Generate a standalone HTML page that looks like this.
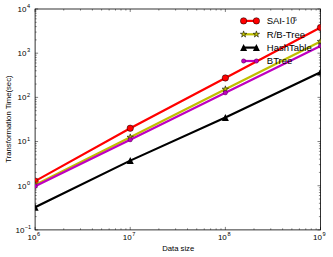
<!DOCTYPE html><html><head><meta charset="utf-8"><style>html,body{margin:0;padding:0;background:#fff;overflow:hidden}svg{display:block}</style></head><body><svg width="333" height="257" viewBox="0 0 333 257"><rect x="35.1" y="9.0" width="285.40" height="220.90" fill="#fff" stroke="#000" stroke-width="0.8"/>
<path d="M35.10 229.9v-3M35.10 9.0v3M130.23 229.9v-3M130.23 9.0v3M225.37 229.9v-3M225.37 9.0v3M320.50 229.9v-3M320.50 9.0v3M35.1 229.90h3M320.5 229.90h-3M35.1 185.72h3M320.5 185.72h-3M35.1 141.54h3M320.5 141.54h-3M35.1 97.36h3M320.5 97.36h-3M35.1 53.18h3M320.5 53.18h-3M35.1 9.00h3M320.5 9.00h-3" stroke="#000" stroke-width="0.5" fill="none"/>
<path d="M63.74 229.9v-1.6M63.74 9.0v1.6M80.49 229.9v-1.6M80.49 9.0v1.6M92.38 229.9v-1.6M92.38 9.0v1.6M101.60 229.9v-1.6M101.60 9.0v1.6M109.13 229.9v-1.6M109.13 9.0v1.6M115.50 229.9v-1.6M115.50 9.0v1.6M121.01 229.9v-1.6M121.01 9.0v1.6M125.88 229.9v-1.6M125.88 9.0v1.6M158.87 229.9v-1.6M158.87 9.0v1.6M175.62 229.9v-1.6M175.62 9.0v1.6M187.51 229.9v-1.6M187.51 9.0v1.6M196.73 229.9v-1.6M196.73 9.0v1.6M204.26 229.9v-1.6M204.26 9.0v1.6M210.63 229.9v-1.6M210.63 9.0v1.6M216.15 229.9v-1.6M216.15 9.0v1.6M221.01 229.9v-1.6M221.01 9.0v1.6M254.00 229.9v-1.6M254.00 9.0v1.6M270.76 229.9v-1.6M270.76 9.0v1.6M282.64 229.9v-1.6M282.64 9.0v1.6M291.86 229.9v-1.6M291.86 9.0v1.6M299.39 229.9v-1.6M299.39 9.0v1.6M305.76 229.9v-1.6M305.76 9.0v1.6M311.28 229.9v-1.6M311.28 9.0v1.6M316.15 229.9v-1.6M316.15 9.0v1.6M35.1 216.60h1.6M320.5 216.60h-1.6M35.1 208.82h1.6M320.5 208.82h-1.6M35.1 203.30h1.6M320.5 203.30h-1.6M35.1 199.02h1.6M320.5 199.02h-1.6M35.1 195.52h1.6M320.5 195.52h-1.6M35.1 192.56h1.6M320.5 192.56h-1.6M35.1 190.00h1.6M320.5 190.00h-1.6M35.1 187.74h1.6M320.5 187.74h-1.6M35.1 172.42h1.6M320.5 172.42h-1.6M35.1 164.64h1.6M320.5 164.64h-1.6M35.1 159.12h1.6M320.5 159.12h-1.6M35.1 154.84h1.6M320.5 154.84h-1.6M35.1 151.34h1.6M320.5 151.34h-1.6M35.1 148.38h1.6M320.5 148.38h-1.6M35.1 145.82h1.6M320.5 145.82h-1.6M35.1 143.56h1.6M320.5 143.56h-1.6M35.1 128.24h1.6M320.5 128.24h-1.6M35.1 120.46h1.6M320.5 120.46h-1.6M35.1 114.94h1.6M320.5 114.94h-1.6M35.1 110.66h1.6M320.5 110.66h-1.6M35.1 107.16h1.6M320.5 107.16h-1.6M35.1 104.20h1.6M320.5 104.20h-1.6M35.1 101.64h1.6M320.5 101.64h-1.6M35.1 99.38h1.6M320.5 99.38h-1.6M35.1 84.06h1.6M320.5 84.06h-1.6M35.1 76.28h1.6M320.5 76.28h-1.6M35.1 70.76h1.6M320.5 70.76h-1.6M35.1 66.48h1.6M320.5 66.48h-1.6M35.1 62.98h1.6M320.5 62.98h-1.6M35.1 60.02h1.6M320.5 60.02h-1.6M35.1 57.46h1.6M320.5 57.46h-1.6M35.1 55.20h1.6M320.5 55.20h-1.6M35.1 39.88h1.6M320.5 39.88h-1.6M35.1 32.10h1.6M320.5 32.10h-1.6M35.1 26.58h1.6M320.5 26.58h-1.6M35.1 22.30h1.6M320.5 22.30h-1.6M35.1 18.80h1.6M320.5 18.80h-1.6M35.1 15.84h1.6M320.5 15.84h-1.6M35.1 13.28h1.6M320.5 13.28h-1.6M35.1 11.02h1.6M320.5 11.02h-1.6" stroke="#000" stroke-width="0.45" fill="none"/>
<clipPath id="c"><rect x="35.1" y="9.0" width="285.40" height="220.90"/></clipPath>
<g clip-path="url(#c)">
<polyline points="35.10,181.13 130.23,128.24 225.37,77.95 320.50,27.57" fill="none" stroke="#ff0000" stroke-width="2.2"/>
<circle cx="35.10" cy="181.13" r="3.2" fill="#ff0000" stroke="#000" stroke-width="0.5"/>
<circle cx="130.23" cy="128.24" r="3.2" fill="#ff0000" stroke="#000" stroke-width="0.5"/>
<circle cx="225.37" cy="77.95" r="3.2" fill="#ff0000" stroke="#000" stroke-width="0.5"/>
<circle cx="320.50" cy="27.57" r="3.2" fill="#ff0000" stroke="#000" stroke-width="0.5"/>
<polyline points="35.10,184.97 130.23,137.26 225.37,89.20 320.50,41.48" fill="none" stroke="#bfbf00" stroke-width="2.2"/>
<polygon points="35.10,181.57 35.86,183.92 38.33,183.92 36.33,185.37 37.10,187.72 35.10,186.26 33.10,187.72 33.87,185.37 31.87,183.92 34.34,183.92" fill="#bfbf00" stroke="#000" stroke-width="0.55"/>
<polygon points="130.23,133.86 130.99,136.21 133.47,136.21 131.46,137.66 132.23,140.01 130.23,138.55 128.23,140.01 129.00,137.66 127.00,136.21 129.47,136.21" fill="#bfbf00" stroke="#000" stroke-width="0.55"/>
<polygon points="225.37,85.80 226.13,88.16 228.60,88.15 226.60,89.60 227.37,91.95 225.37,90.49 223.37,91.95 224.14,89.60 222.13,88.15 224.61,88.16" fill="#bfbf00" stroke="#000" stroke-width="0.55"/>
<polygon points="320.50,38.08 321.26,40.44 323.73,40.43 321.73,41.88 322.50,44.23 320.50,42.77 318.50,44.23 319.27,41.88 317.27,40.43 319.74,40.44" fill="#bfbf00" stroke="#000" stroke-width="0.55"/>
<polyline points="35.10,207.28 130.23,160.62 225.37,117.50 320.50,72.15" fill="none" stroke="#000000" stroke-width="2.2"/>
<polygon points="31.60,210.68 38.60,210.68 35.10,203.68" fill="#000"/>
<polygon points="126.73,164.02 133.73,164.02 130.23,157.02" fill="#000"/>
<polygon points="221.87,120.90 228.87,120.90 225.37,113.90" fill="#000"/>
<polygon points="317.00,75.55 324.00,75.55 320.50,68.55" fill="#000"/>
<polyline points="35.10,186.30 130.23,139.71 225.37,92.77 320.50,45.98" fill="none" stroke="#bf00bf" stroke-width="2.2"/>
<circle cx="35.10" cy="186.30" r="2.2" fill="#bf00bf" stroke="#000" stroke-width="0.3"/>
<circle cx="130.23" cy="139.71" r="2.2" fill="#bf00bf" stroke="#000" stroke-width="0.3"/>
<circle cx="225.37" cy="92.77" r="2.2" fill="#bf00bf" stroke="#000" stroke-width="0.3"/>
<circle cx="320.50" cy="45.98" r="2.2" fill="#bf00bf" stroke="#000" stroke-width="0.3"/>
</g>
<path d="M242.6 20.9H257.6" stroke="#ff0000" stroke-width="2.2"/>
<circle cx="243.60" cy="20.90" r="3.2" fill="#ff0000" stroke="#000" stroke-width="0.5"/>
<circle cx="256.40" cy="20.90" r="3.2" fill="#ff0000" stroke="#000" stroke-width="0.5"/>
<path d="M242.6 34.3H257.6" stroke="#bfbf00" stroke-width="2.2"/>
<polygon points="243.60,30.90 244.36,33.25 246.83,33.25 244.83,34.70 245.60,37.05 243.60,35.59 241.60,37.05 242.37,34.70 240.37,33.25 242.84,33.25" fill="#bfbf00" stroke="#000" stroke-width="0.55"/>
<polygon points="256.40,30.90 257.16,33.25 259.63,33.25 257.63,34.70 258.40,37.05 256.40,35.59 254.40,37.05 255.17,34.70 253.17,33.25 255.64,33.25" fill="#bfbf00" stroke="#000" stroke-width="0.55"/>
<path d="M242.6 47.6H257.6" stroke="#000000" stroke-width="2.2"/>
<polygon points="240.10,51.00 247.10,51.00 243.60,44.00" fill="#000"/>
<polygon points="252.90,51.00 259.90,51.00 256.40,44.00" fill="#000"/>
<path d="M242.6 61.0H257.6" stroke="#bf00bf" stroke-width="2.2"/>
<circle cx="243.60" cy="61.00" r="2.2" fill="#bf00bf" stroke="#000" stroke-width="0.3"/>
<circle cx="256.40" cy="61.00" r="2.2" fill="#bf00bf" stroke="#000" stroke-width="0.3"/>
<g font-family="'Liberation Sans', sans-serif" font-size="9.5" fill="#000">
<text x="266.8" y="24.4" textLength="18" lengthAdjust="spacing">SAI-</text>
<text x="266.8" y="37.5">R/B-Tree</text>
<text x="266.8" y="50.8">HashTable</text>
<text x="266.8" y="64.2">BTree</text>
</g>
<g font-family="'Liberation Serif', serif" fill="#000">
<text x="285.4" y="24.4" font-size="9.5">10</text>
<text x="293.5" y="20.9" font-size="6.6">5</text>
</g>
<g font-family="'Liberation Sans', sans-serif" fill="#000">
<text x="27.6" y="239.6" font-size="8">10</text><text x="37.1" y="235.9" font-size="5.6">6</text>
<text x="122.7" y="239.6" font-size="8">10</text><text x="132.3" y="235.9" font-size="5.6">7</text>
<text x="217.9" y="239.6" font-size="8">10</text><text x="227.4" y="235.9" font-size="5.6">8</text>
<text x="313.0" y="239.6" font-size="8">10</text><text x="322.5" y="235.9" font-size="5.6">9</text>
<text x="15.6" y="232.8" font-size="8">10</text><text x="24.8" y="229.1" font-size="5.6">−1</text>
<text x="17.6" y="188.62" font-size="8">10</text><text x="27.1" y="184.9" font-size="5.6">0</text>
<text x="17.6" y="144.44" font-size="8">10</text><text x="27.1" y="140.74" font-size="5.6">1</text>
<text x="17.6" y="100.26" font-size="8">10</text><text x="27.1" y="96.56" font-size="5.6">2</text>
<text x="17.6" y="56.08" font-size="8">10</text><text x="27.1" y="52.38" font-size="5.6">3</text>
<text x="17.6" y="11.9" font-size="8">10</text><text x="27.1" y="8.2" font-size="5.6">4</text>
<text x="178.2" y="250.9" font-size="7.7" text-anchor="middle">Data size</text>
<text transform="translate(10.6,168.33) rotate(-90)" x="49.25" y="0" font-size="7.7" text-anchor="middle">Transformation Time(sec)</text>
</g>
</svg></body></html>
